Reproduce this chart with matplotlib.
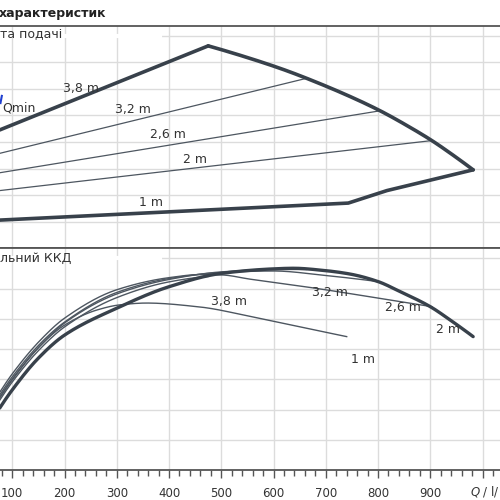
import numpy as np
import matplotlib
matplotlib.use("Agg")
import matplotlib.pyplot as plt
from matplotlib.ticker import MultipleLocator

# ---------------- data ----------------
q_major = [100, 200, 300, 400, 500, 600, 700, 800, 900, 1000]
q_labels = ["100", "200", "300", "400", "500", "600", "700", "800", "900", ""]

# top panel (head / flow field)
top_38_q = [76, 475]
top_38_y = [4.45, 7.61]
top_max_q = [475, 555, 619, 666, 746, 804, 861, 903, 938, 982]
top_max_y = [7.61, 7.14, 6.72, 6.37, 5.71, 5.17, 4.55, 4.05, 3.58, 2.95]
top_1m_q = [76, 743, 817, 982]
top_1m_y = [1.06, 1.70, 2.17, 2.95]
top_32_q = [76, 663]
top_32_y = [3.57, 6.39]
top_26_q = [76, 804]
top_26_y = [2.84, 5.17]
top_20_q = [76, 903]
top_20_y = [2.17, 4.05]

# bottom panel (efficiency)
eff_max_q = [76, 100, 150, 200, 300, 400, 500, 600, 638, 700, 746, 800, 842, 900, 938, 982]
eff_max_y = [20.5, 26.5, 37.0, 44.6, 53.5, 60.6, 65.0, 66.5, 66.7, 65.9, 64.8, 62.3, 59.0, 54.0, 49.6, 44.1]
eff_38_q = [76, 100, 153, 200, 300, 400, 475]
eff_38_y = [23.1, 29.1, 40.0, 47.3, 57.0, 62.2, 64.0]
eff_32_q = [76, 100, 153, 200, 300, 400, 500, 600, 663]
eff_32_y = [24.1, 30.1, 41.0, 48.6, 58.2, 63.0, 65.5, 66.3, 66.3]
eff_26_q = [76, 100, 153, 200, 300, 400, 500, 600, 700, 804]
eff_26_y = [24.8, 30.8, 41.7, 48.9, 58.7, 63.3, 65.3, 65.8, 64.3, 62.2]
eff_20_q = [76, 100, 153, 200, 300, 400, 459, 500, 555, 676, 823, 903]
eff_20_y = [25.7, 31.8, 42.8, 50.2, 59.6, 63.6, 64.6, 64.5, 63.1, 60.2, 56.2, 54.0]
eff_1m_q = [76, 100, 153, 200, 262, 306, 357, 459, 555, 651, 740]
eff_1m_y = [23.8, 29.8, 41.0, 47.9, 52.9, 54.6, 55.2, 53.9, 50.8, 47.3, 44.1]

top_labels = ["3,8 m", "3,2 m", "2,6 m", "2 m", "1 m"]
top_label_q = [231, 330, 397, 449, 366]
top_label_y = [6.02, 5.20, 4.26, 3.35, 1.71]
bot_labels = ["3,8 m", "3,2 m", "2,6 m", "2 m", "1 m"]
bot_label_q = [515, 708, 848, 934, 771]
bot_label_y = [55.6, 58.8, 53.8, 46.5, 36.4]


def pchip(x, y, n=400):
    """Monotone cubic rendering path through the read points."""
    x = np.asarray(x, float)
    y = np.asarray(y, float)
    if len(x) < 3:
        return x, y
    h = np.diff(x)
    d = np.diff(y) / h
    m = np.zeros_like(y)
    for k in range(1, len(x) - 1):
        if d[k - 1] * d[k] <= 0:
            m[k] = 0.0
        else:
            w1 = 2 * h[k] + h[k - 1]
            w2 = h[k] + 2 * h[k - 1]
            m[k] = (w1 + w2) / (w1 / d[k - 1] + w2 / d[k])
    m0 = ((2 * h[0] + h[1]) * d[0] - h[0] * d[1]) / (h[0] + h[1])
    if np.sign(m0) != np.sign(d[0]):
        m0 = 0.0
    m[0] = m0
    mn = ((2 * h[-1] + h[-2]) * d[-1] - h[-1] * d[-2]) / (h[-1] + h[-2])
    if np.sign(mn) != np.sign(d[-1]):
        mn = 0.0
    m[-1] = mn
    xs = np.linspace(x[0], x[-1], n)
    idx = np.clip(np.searchsorted(x, xs) - 1, 0, len(x) - 2)
    t = (xs - x[idx]) / h[idx]
    h00 = 2 * t ** 3 - 3 * t ** 2 + 1
    h10 = t ** 3 - 2 * t ** 2 + t
    h01 = -2 * t ** 3 + 3 * t ** 2
    h11 = t ** 3 - t ** 2
    ys = h00 * y[idx] + h10 * h[idx] * m[idx] + h01 * y[idx + 1] + h11 * h[idx] * m[idx + 1]
    return xs, ys


LINE = "#38414b"
THIN = "#4d5660"
GRID = "#dcdcdc"
TXT = "#333333"
SPINE = "#555555"

fig = plt.figure(figsize=(5, 5), dpi=100)
ax1 = fig.add_axes([0, 1 - 248.3 / 500, 1, 222.0 / 500])
ax2 = fig.add_axes([0, 1 - 470.0 / 500, 1, 221.7 / 500])

for ax in (ax1, ax2):
    ax.set_xlim(76.5, 1033.4)
    ax.set_xticks(q_major)
    ax.grid(True, color=GRID, lw=1.0, zorder=0)
    ax.set_axisbelow(True)
    for s in ("left", "right"):
        ax.spines[s].set_visible(False)
    for s in ("top", "bottom"):
        ax.spines[s].set_color(SPINE)
        ax.spines[s].set_linewidth(1.3)
    ax.tick_params(axis="y", length=0, labelleft=False)

ax1.set_ylim(0, 8.346)
ax1.set_yticks(range(1, 9))
ax1.tick_params(axis="x", length=0, labelbottom=False)
ax1.axhline(8, xmin=0, xmax=0.32, color="white", lw=3, zorder=1)

ax2.set_ylim(0, 73.3)
ax2.set_yticks(range(10, 80, 10))
ax2.set_xticklabels(q_labels)
ax2.xaxis.set_minor_locator(MultipleLocator(20))
ax2.tick_params(axis="x", which="major", direction="out", length=6, width=1.0,
                color=SPINE, labelsize=8.5, labelcolor=TXT, pad=6)
ax2.tick_params(axis="x", which="minor", direction="out", length=4, width=1.0, color=SPINE)
ax2.axhline(70, xmin=0, xmax=0.32, color="white", lw=3, zorder=1)

# top panel lines
for q, y in ((top_38_q, top_38_y), (top_1m_q, top_1m_y)):
    ax1.plot(q, y, color=LINE, lw=2.6, solid_capstyle="round", solid_joinstyle="round", zorder=3)
qs, ys = pchip(top_max_q, top_max_y)
ax1.plot(qs, ys, color=LINE, lw=2.6, solid_capstyle="round", solid_joinstyle="round", zorder=3)
for q, y in ((top_32_q, top_32_y), (top_26_q, top_26_y), (top_20_q, top_20_y)):
    ax1.plot(q, y, color=THIN, lw=0.9, zorder=2)

for t, q, y in zip(top_labels, top_label_q, top_label_y):
    ax1.text(q, y, t, fontsize=9, color=TXT, ha="center", va="center", zorder=4)
ax1.text(112.8, 5.27, "Qmin", fontsize=9, color=TXT, ha="center", va="center", zorder=4)
ax1.plot([77.4, 80.0], [5.46, 5.73], color="#1f3fd0", lw=1.5, zorder=4)

# bottom panel lines
for q, y in ((eff_38_q, eff_38_y), (eff_32_q, eff_32_y), (eff_26_q, eff_26_y),
             (eff_20_q, eff_20_y), (eff_1m_q, eff_1m_y)):
    qs, ys = pchip(q, y)
    ax2.plot(qs, ys, color=THIN, lw=1.0, zorder=2)
qs, ys = pchip(eff_max_q, eff_max_y)
ax2.plot(qs, ys, color=LINE, lw=2.4, solid_capstyle="round", zorder=3)

for t, q, y in zip(bot_labels, bot_label_q, bot_label_y):
    ax2.text(q, y, t, fontsize=9, color=TXT, ha="center", va="center", zorder=4)

# header texts
fig.text(-0.002, 1 - 13.3 / 500, "характеристик", fontsize=9, fontweight="bold",
         color="#222222", ha="left", va="center")
fig.text(0.0, 1 - 35.0 / 500, "та подачі", fontsize=9, color=TXT, ha="left", va="center")
fig.text(0.0, 1 - 258.3 / 500, "льний ККД", fontsize=9, color=TXT, ha="left", va="center")
fig.text(470.0 / 500, 1 - 491.7 / 500, r"$\mathit{Q}$ / l/", fontsize=8.5, color=TXT,
         ha="left", va="center")

fig.savefig("out.png", dpi=100)
